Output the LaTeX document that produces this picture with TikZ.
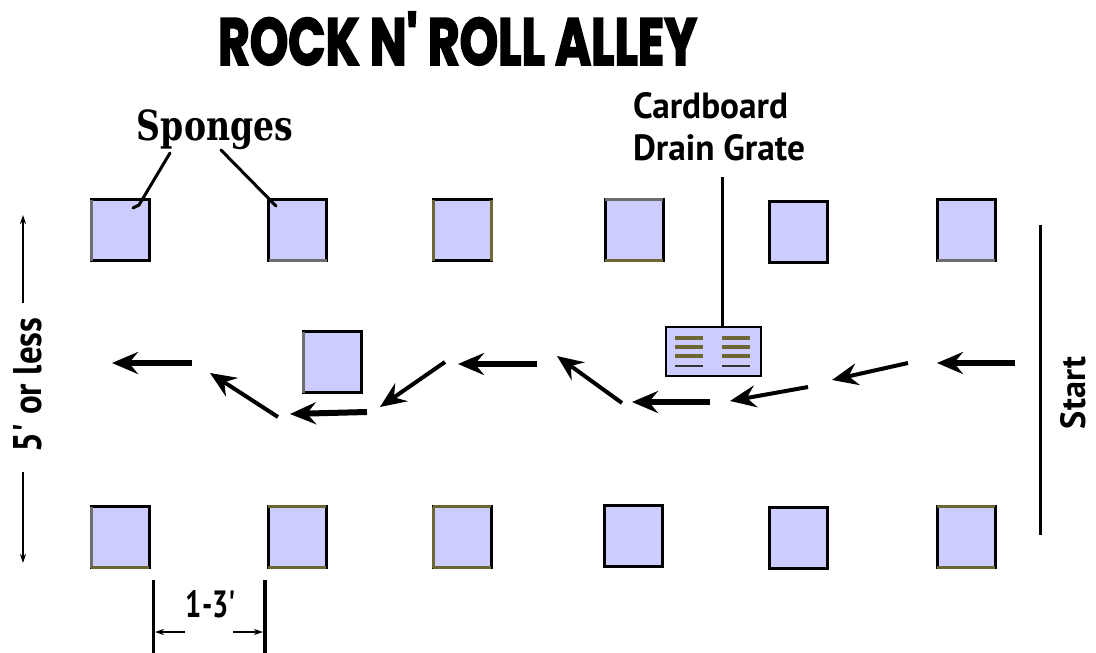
\documentclass[tikz,border=0pt]{standalone}
\usepackage{fontspec}
\usetikzlibrary{arrows.meta}
\newfontfamily\labelfont{PT Sans}
\newfontfamily\titlefont{Poppins}[BoldFeatures={FakeBold=3}]
\newfontfamily\spongefont{DejaVu Serif}
\definecolor{spongefill}{RGB}{204,204,255}
\definecolor{olivedk}{RGB}{107,102,51}
\definecolor{graydk}{RGB}{110,110,110}
\begin{document}
\begin{tikzpicture}[x=1pt,y=-1pt,
  sponge/.style={draw=black,fill=spongefill,line width=3pt,minimum width=58pt,minimum height=61pt,inner sep=0pt,outer sep=0pt},
  grate/.style={draw=black,fill=spongefill,line width=2pt,minimum width=95pt,minimum height=49pt,inner sep=0pt,outer sep=0pt},
  bar/.style={olivedk,line width=4pt},
  thinbar/.style={black!80,line width=2pt},
  edgeg/.style={graydk,line width=3pt},
  edgeo/.style={olivedk,line width=3pt},
  flow/.style={line width=6pt,-{Stealth[length=26pt,width=22pt,inset=9pt]}},
  flowthin/.style={line width=4pt,-{Stealth[length=26pt,width=22pt,inset=9pt]}},
  pointer/.style={line width=3pt,line cap=round},
  dimline/.style={line width=1.5pt,-{Stealth[length=9pt,width=6pt]}},
  txt/.style={inner sep=0pt,outer sep=0pt}]
\useasboundingbox (0,0) rectangle (1096,653);
\fill[white] (0,0) rectangle (1096,653);

% title
\node[txt] (title) at (457.5,38.5) {\resizebox{479pt}{53pt}{\titlefont\bfseries ROCK N' ROLL ALLEY}};

% top row
\node[sponge] (t1) at (120.5,230) {};
\node[sponge] (t2) at (297.5,229.5) {};
\node[sponge] (t3) at (462,230) {};
\node[sponge] (t4) at (634,229.5) {};
\node[sponge] (t5) at (798.5,231.5) {};
\node[sponge] (t6) at (966,230) {};
% middle sponge
\node[sponge] (m1) at (332.5,362) {};
% bottom row
\node[sponge] (b1) at (120,537) {};
\node[sponge] (b2) at (297,537) {};
\node[sponge] (b3) at (462,537) {};
\node[sponge] (b4) at (633,536) {};
\node[sponge] (b5) at (798,538) {};
\node[sponge] (b6) at (966,537) {};

% coloured edges
\draw[edgeg] (t1.north west) -- (t1.south west);
\draw[edgeg] (t2.south west) -- (t2.south east);
\draw[edgeo] (t3.north west) -- (t3.south west);
\draw[edgeo] (t3.north east) -- (t3.south east);
\draw[edgeg] (t4.north west) -- (t4.north east);
\draw[edgeo] (t4.south west) -- (t4.south east);
\draw[edgeg] (t6.south west) -- (t6.south east);
\draw[edgeg] (m1.north west) -- (m1.south west);
\draw[edgeg] (b1.north west) -- (b1.south west);
\draw[edgeo] (b1.south west) -- (b1.south east);
\draw[edgeo] (b2.north west) -- (b2.north east);
\draw[edgeo] (b2.south west) -- (b2.south east);
\draw[edgeo] (b3.north west) -- (b3.north east) (b3.south west) -- (b3.south east) (b3.north west) -- (b3.south west);
\draw[edgeo] (b6.north west) -- (b6.north east) (b6.south west) -- (b6.south east);

% grate
\node[grate] (g) at (713.5,351.5) {};
\foreach \yy in {338,347,356}{
  \draw[bar] (675,\yy) -- (703,\yy);
  \draw[bar] (722,\yy) -- (750,\yy);
}
\draw[thinbar] (675,366) -- (703,366);
\draw[thinbar] (722,366) -- (750,366);

% grate label
\node[txt,anchor=base west] (lab1) at (633,118) {\resizebox{155pt}{26pt}{\labelfont\bfseries Cardboard}};
\node[txt,anchor=base west] (lab2) at (633,160) {\resizebox{172pt}{26pt}{\labelfont\bfseries Drain Grate}};
\coordinate (gtop) at (722,177);
\draw[line width=3pt] (gtop) -- (g.north -| gtop);

% sponges label
\node[txt,anchor=base] (sp) at (215,140) {\resizebox*{156pt}{40pt}{\spongefont\bfseries Sponges}};
\coordinate (sp1) at (170,153);
\coordinate (sp2) at (221,150);
\draw[pointer] (sp1) -- (139,205) -- (133,208);
\draw[pointer] (sp2) -- (276,206);

% flow arrows
\coordinate (a1s) at (1015,363); \coordinate (a1e) at (937,363);
\coordinate (a2s) at (908,363); \coordinate (a2e) at (832,380);
\coordinate (a3s) at (808,387); \coordinate (a3e) at (730,401);
\coordinate (a4s) at (710,402); \coordinate (a4e) at (632,402);
\coordinate (a5s) at (622,403); \coordinate (a5e) at (557,356);
\coordinate (a6s) at (537,364); \coordinate (a6e) at (458,364);
\coordinate (a7s) at (445,362); \coordinate (a7e) at (380,407);
\coordinate (a8s) at (367,412); \coordinate (a8e) at (290,414);
\coordinate (a9s) at (278,417); \coordinate (a9e) at (210,373);
\coordinate (a10s) at (192,363); \coordinate (a10e) at (112,363);
\draw[flow] (a1s) -- (a1e);
\draw[flowthin] (a2s) -- (a2e);
\draw[flowthin] (a3s) -- (a3e);
\draw[flow] (a4s) -- (a4e);
\draw[flowthin] (a5s) -- (a5e);
\draw[flow] (a6s) -- (a6e);
\draw[flowthin] (a7s) -- (a7e);
\draw[flow] (a8s) -- (a8e);
\draw[flowthin] (a9s) -- (a9e);
\draw[flow] (a10s) -- (a10e);

% start line
\coordinate (st1) at (1040,225); \coordinate (st2) at (1040,535);
\draw[line width=3pt] (st1) -- (st2);
\node[txt,rotate=90] (start) at (1073,393) {\resizebox{72pt}{25pt}{\labelfont\bfseries Start}};

% 5' or less
\node[txt,rotate=90] (five) at (28,385) {\resizebox{135pt}{28pt}{\labelfont\bfseries 5' or less}};
\coordinate (v1) at (23,303); \coordinate (v2) at (23,215);
\coordinate (v3) at (23,472); \coordinate (v4) at (23,563);
\draw[dimline] (v1) -- (v2);
\draw[dimline] (v3) -- (v4);

% 1-3'
\coordinate (l1) at (153,580); \coordinate (l2) at (153,653);
\coordinate (r1) at (265,580); \coordinate (r2) at (265,653);
\draw[line width=3pt] (l1) -- (l2);
\draw[line width=4pt] (r1) -- (r2);
\node[txt] (gap) at (211,604) {\resizebox{50pt}{27pt}{\labelfont\bfseries 1-3'}};
\coordinate (d1) at (185,632); \coordinate (d2) at (155,632);
\coordinate (d3) at (233,632); \coordinate (d4) at (263,632);
\draw[dimline] (d1) -- (d2);
\draw[dimline] (d3) -- (d4);
\end{tikzpicture}
\end{document}
